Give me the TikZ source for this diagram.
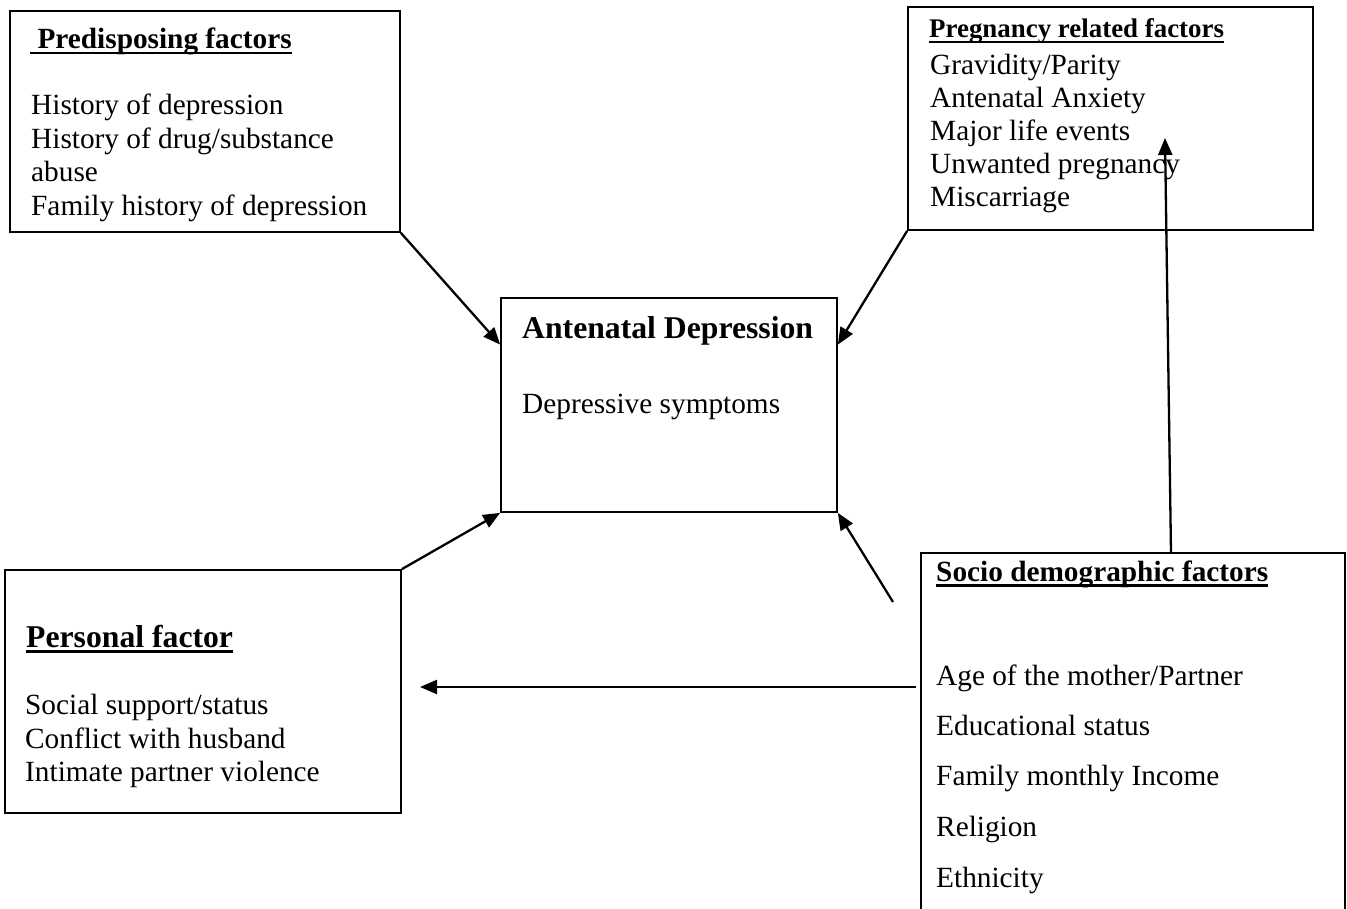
\documentclass[tikz,border=0pt]{standalone}
\usepackage{fontspec}
\setmainfont{Liberation Serif}
\usetikzlibrary{arrows.meta,calc}
\newcommand{\titlebar}[1]{\draw[line width=2.4pt] ([yshift=-4.3pt]#1.base west) -- ([yshift=-4.3pt]#1.base east);}
\tikzset{
  factorbox/.style={draw, line width=1.7pt, inner sep=0pt},
  bodytext/.style={anchor=base west, inner sep=0pt, font=\fontsize{29.3}{35}\selectfont},
  headtext/.style={anchor=base west, inner sep=0pt, font=\fontsize{29.3}{35}\selectfont\bfseries},
  bighead/.style={anchor=base west, inner sep=0pt, font=\fontsize{31.7}{38}\selectfont\bfseries},
  smallhead/.style={anchor=base west, inner sep=0pt, font=\fontsize{26.9}{32}\selectfont\bfseries},
  link/.style={line width=2.3pt, -{Triangle[length=17pt,width=14pt]}}
}
\begin{document}
\begin{tikzpicture}[x=1pt,y=-1pt]
        \useasboundingbox (0,0) rectangle (1347,909);

        % Boxes
        \node[factorbox, minimum width=390pt, minimum height=221pt] (pre) at (205,121.5) {};
        \node[factorbox, minimum width=405pt, minimum height=223pt] (preg) at (1110.5,118.5) {};
        \node[factorbox, minimum width=336pt, minimum height=214pt] (dep) at (669,405) {};
        \node[factorbox, minimum width=396pt, minimum height=243pt] (pers) at (203,691.5) {};
        \node[inner sep=0pt, minimum width=424pt, minimum height=356pt] (socio) at (1133,731) {};
        \draw[line width=1.7pt] (socio.south west) |- (socio.north east) -- (socio.south east);

        % Predisposing factors
        \node[headtext] (preT) at (30,49) {\ Predisposing factors};
        \titlebar{preT}
        \node[bodytext] (pre1) at (31,115) {History of depression};
        \node[bodytext] (pre2) at (31,149) {History of drug/substance};
        \node[bodytext] (pre3) at (31,182) {abuse};
        \node[bodytext] (pre4) at (31,216) {Family history of depression};

        % Pregnancy related factors
        \node[smallhead] (pregT) at (929,38) {Pregnancy related factors};
        \titlebar{pregT}
        \node[bodytext] (preg1) at (930,75) {Gravidity/Parity};
        \node[bodytext] (preg2) at (930,108) {Antenatal Anxiety};
        \node[bodytext] (preg3) at (930,141) {Major life events};
        \node[bodytext] (preg4) at (930,174) {Unwanted pregnancy};
        \node[bodytext] (preg5) at (930,207) {Miscarriage};

        % Antenatal Depression
        \node[bighead] (depT) at (522,338) {Antenatal Depression};
        \node[bodytext] (dep1) at (522,413) {Depressive symptoms};

        % Personal factor
        \node[bighead] (persT) at (26,647) {Personal factor};
        \titlebar{persT}
        \node[bodytext] (pers1) at (25,714) {Social support/status};
        \node[bodytext] (pers2) at (25,748) {Conflict with husband};
        \node[bodytext] (pers3) at (25,781) {Intimate partner violence};

        % Socio demographic factors
        \node[headtext] (socioT) at (936,581) {Socio demographic factors};
        \titlebar{socioT}
        \node[bodytext] (socio1) at (936,685) {Age of the mother/Partner};
        \node[bodytext] (socio2) at (936,735) {Educational status};
        \node[bodytext] (socio3) at (936,785) {Family monthly Income};
        \node[bodytext] (socio4) at (936,836) {Religion};
        \node[bodytext] (socio5) at (936,887) {Ethnicity};

        % Arrows
        \coordinate (pregmid) at (1165,138);
        \coordinate (sociofoot) at (893,602);
        \coordinate (sociogap) at (916,687);
        \coordinate (persgap) at (420,687);
        \draw[link] (pre.south east) -- ($(dep.north west)!0.22!(dep.south west)$);
        \draw[link] (preg.south west) -- ($(dep.north east)!0.22!(dep.south east)$);
        \draw[link] (pers.north east) -- (dep.south west);
        \draw[link] (sociofoot) -- (dep.south east);
        \draw[link] ([xshift=38pt]socio.north) -- (pregmid);
        \draw[link] (sociogap) -- (persgap);
    \end{tikzpicture}
\end{document}
